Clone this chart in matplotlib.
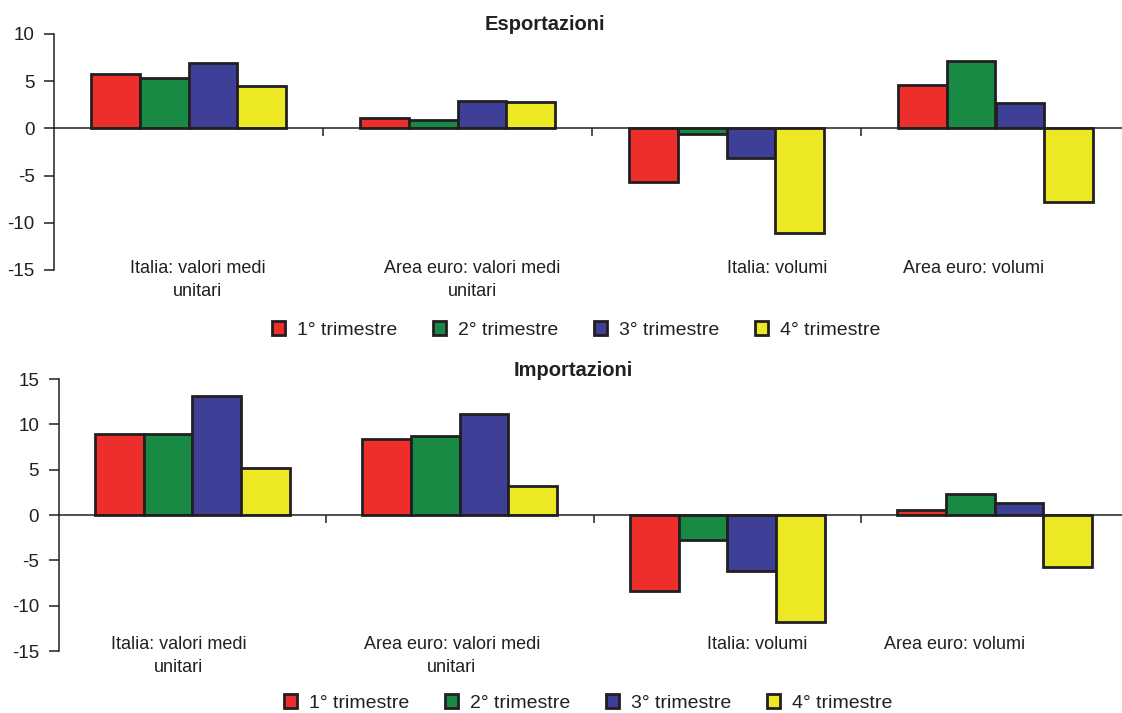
import matplotlib
matplotlib.use("Agg")
import matplotlib.pyplot as plt
from matplotlib.patches import Patch
import numpy as np

plt.rcParams['font.family'] = ['Liberation Sans', 'DejaVu Sans']

categories = ["Italia: valori medi\nunitari", "Area euro: valori medi\nunitari",
              "Italia: volumi", "Area euro: volumi"]
series = ["1° trimestre", "2° trimestre", "3° trimestre", "4° trimestre"]

export_q1 = [5.8, 1.15, -5.65, 4.55]
export_q2 = [5.35, 0.85, -0.55, 7.1]
export_q3 = [6.95, 2.9, -3.1, 2.65]
export_q4 = [4.5, 2.8, -11.05, -7.75]

import_q1 = [8.95, 8.4, -8.4, 0.5]
import_q2 = [8.95, 8.75, -2.75, 2.3]
import_q3 = [13.15, 11.15, -6.15, 1.3]
import_q4 = [5.15, 3.25, -11.8, -5.75]

colors = ["#EE2E2B", "#188A43", "#3E4098", "#ECE824"]
edge = "#231F20"

fig = plt.figure(figsize=(11.22, 7.13), dpi=100)

def draw(ax, data, ylim, yticks, label_x, label_y):
    w = 0.182
    x = np.arange(len(categories))
    for j, vals in enumerate(data):
        ax.bar(x + (j - 1.5) * w, vals, width=w, color=colors[j],
               edgecolor=edge, linewidth=2.0, zorder=3)
    ax.set_ylim(*ylim)
    ax.set_yticks(yticks)
    ax.set_yticklabels([str(t) for t in yticks])
    ax.spines['top'].set_visible(False)
    ax.spines['right'].set_visible(False)
    ax.spines['bottom'].set_position(('data', 0))
    for s in ('left', 'bottom'):
        ax.spines[s].set_color(edge)
        ax.spines[s].set_linewidth(1.1)
        ax.spines[s].set_zorder(4)
    ax.set_xticks([0.5, 1.5, 2.5])
    ax.set_xticklabels([])
    ax.tick_params(axis='x', direction='out', length=6, width=1.1, color=edge)
    ax.tick_params(axis='y', direction='out', length=7, width=1.1, color=edge,
                   labelsize=13.5, pad=7, labelcolor='#231F20')
    for lx, lab in zip(label_x, categories):
        ax.text(lx, label_y, lab, ha='center', va='top', fontsize=13,
                color='#231F20', linespacing=1.45)

ax1 = fig.add_axes([54/1122, 1-270/713, 1-54/1122, (270-34)/713])
ax1.set_xlim(-0.5, -0.5 + (1122-54)/269)
draw(ax1, [export_q1, export_q2, export_q3, export_q4], (-15, 10),
     [-15, -10, -5, 0, 5, 10], [0.035, 1.054, 2.188, 2.917], -13.95)

ax2 = fig.add_axes([58.5/1122, 1-651/713, 1-58.5/1122, (651-379)/713])
ax2.set_xlim(-0.5, -0.5 + (1122-58.5)/267.5)
draw(ax2, [import_q1, import_q2, import_q3, import_q4], (-15, 15),
     [-15, -10, -5, 0, 5, 10, 15], [-0.05, 0.971, 2.111, 2.848], -13.35)

fig.text(545/1122, 1-24/713, "Esportazioni", ha='center', va='center',
         fontsize=14.5, fontweight='bold', color='#231F20')
fig.text(573/1122, 1-371/713, "Importazioni", ha='center', va='center',
         fontsize=14.5, fontweight='bold', color='#231F20')

handles = [Patch(facecolor=c, edgecolor=edge, linewidth=2.0) for c in colors]
for cx, cy in [(576/1122, 1-330/713), (588/1122, 1-703/713)]:
    fig.legend(handles, series, loc='center', bbox_to_anchor=(cx, cy), ncol=4,
               frameon=False, fontsize=14, handlelength=0.68, handleheight=0.68,
               handletextpad=0.6, columnspacing=1.85, borderpad=0.1,
               labelcolor='#231F20')

fig.savefig("out.png", dpi=100)
